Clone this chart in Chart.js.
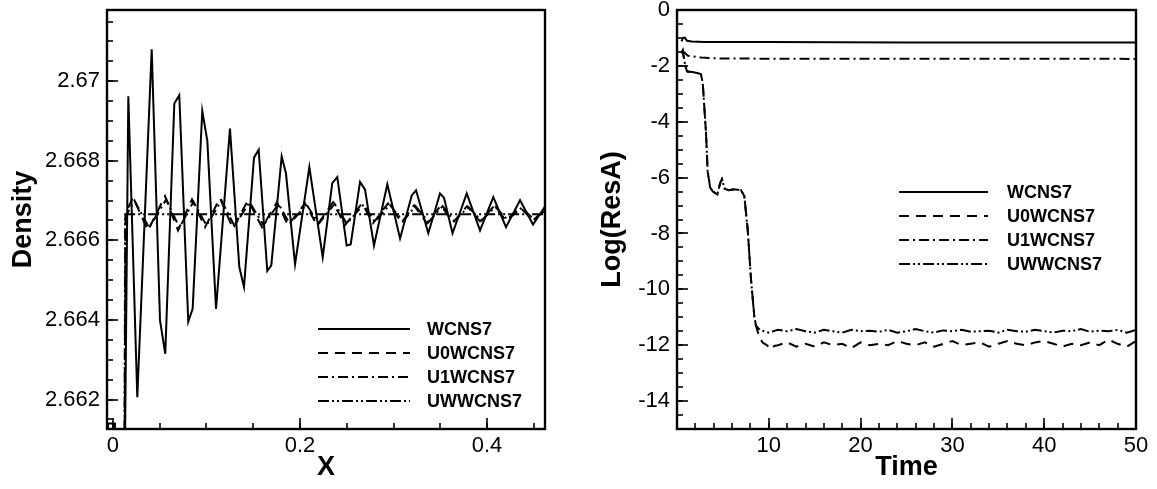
<!DOCTYPE html>
<html><head><meta charset="utf-8">
<script src="https://cdn.jsdelivr.net/npm/chart.js@4.4.1/dist/chart.umd.min.js"></script>
<style>
html,body{margin:0;padding:0;background:#fff;width:1157px;height:489px;overflow:hidden}
#l{position:absolute;left:0;top:0;width:580px;height:489px}
#r{position:absolute;left:580px;top:0;width:577px;height:489px}
canvas{display:block}
</style></head><body>
<div id="l"><canvas id="c1" width="580" height="489"></canvas></div>
<div id="r"><canvas id="c2" width="577" height="489"></canvas></div>
<script>
// ---------- shared ----------
const seriesNames = ['WCNS7', 'U0WCNS7', 'U1WCNS7', 'UWWCNS7'];

// ---------- left panel: Density vs X ----------
const xTicksL = [0, 0.2, 0.4];
const xTickLabelsL = ['0', '0.2', '0.4'];
const yTicksL = [2.662, 2.664, 2.666, 2.668, 2.67];
const yTickLabelsL = ['2.662', '2.664', '2.666', '2.668', '2.67'];

const wcnsX = [-0.0058, -0.0053, 0.0021, 0.0026, 0.0125, 0.0164, 0.0260, 0.0414, 0.0503, 0.0559, 0.0656, 0.0709, 0.0805, 0.0852, 0.0955, 0.1009, 0.1102, 0.1251, 0.1351, 0.1401, 0.1508, 0.1558, 0.1650, 0.1693, 0.1804, 0.1850, 0.1947, 0.2100, 0.2243, 0.2345, 0.2399, 0.2499, 0.2542, 0.2642, 0.2695, 0.2791, 0.2934, 0.3070, 0.3195, 0.3241, 0.3372, 0.3497, 0.3540, 0.3631, 0.3783, 0.3925, 0.4067, 0.4203, 0.4353, 0.4492, 0.4642, 0.4700];
const wcnsD = [2.6600, 2.66140, 2.66140, 2.6600, 2.6600, 2.66962, 2.66206, 2.67080, 2.66399, 2.66315, 2.66944, 2.66965, 2.66396, 2.66428, 2.66925, 2.66850, 2.66428, 2.66881, 2.66533, 2.66483, 2.66808, 2.66828, 2.66523, 2.66537, 2.66811, 2.66768, 2.66540, 2.66784, 2.66558, 2.66744, 2.66759, 2.66587, 2.66590, 2.66747, 2.66728, 2.66587, 2.66741, 2.66605, 2.66713, 2.66726, 2.66618, 2.66718, 2.66707, 2.66618, 2.66718, 2.66625, 2.66709, 2.66633, 2.66701, 2.66640, 2.66693, 2.66670];

const u0X = [0.0123, 0.0134, 0.0214, 0.0374, 0.0556, 0.0695, 0.0845, 0.0984, 0.1144, 0.1283, 0.1444, 0.1594, 0.1754, 0.1872, 0.2053, 0.2182, 0.2353, 0.2481, 0.2663, 0.2781, 0.2941, 0.3088, 0.3219, 0.3358, 0.3508, 0.3636, 0.3786, 0.3925, 0.4075, 0.4203, 0.4353, 0.4492, 0.4642, 0.4706];
const u0D = [2.6600, 2.66668, 2.66708, 2.66625, 2.66711, 2.66625, 2.66703, 2.66633, 2.66706, 2.66630, 2.66701, 2.66633, 2.66696, 2.66638, 2.66693, 2.66638, 2.66696, 2.66638, 2.66693, 2.66643, 2.66693, 2.66645, 2.66688, 2.66643, 2.66688, 2.66645, 2.66686, 2.66648, 2.66686, 2.66650, 2.66683, 2.66650, 2.66683, 2.66667];

const u1X = [0.0124, 0.0136, 0.0230, 0.0385, 0.0570, 0.0710, 0.0860, 0.1000, 0.1160, 0.1300, 0.1460, 0.1610, 0.1770, 0.1890, 0.2070, 0.2200, 0.2370, 0.2500, 0.2680, 0.2800, 0.2960, 0.3100, 0.3235, 0.3375, 0.3525, 0.3650, 0.3800, 0.3940, 0.4090, 0.4220, 0.4370, 0.4505, 0.4655, 0.4706];
const u1D = [2.6600, 2.66660, 2.66700, 2.66632, 2.66703, 2.66632, 2.66697, 2.66638, 2.66700, 2.66636, 2.66696, 2.66638, 2.66692, 2.66642, 2.66690, 2.66642, 2.66692, 2.66642, 2.66690, 2.66646, 2.66690, 2.66648, 2.66686, 2.66646, 2.66686, 2.66648, 2.66684, 2.66650, 2.66684, 2.66652, 2.66682, 2.66652, 2.66682, 2.66667];

const uwX = [0.0122, 0.0130, 0.05, 0.1, 0.2, 0.3, 0.4, 0.4706];
const uwD = [2.6600, 2.66666, 2.66666, 2.66666, 2.66666, 2.66666, 2.66666, 2.66666];

// ---------- right panel: Log(ResA) vs Time ----------
const xTicksR = [10, 20, 30, 40, 50];
const yTicksR = [0, -2, -4, -6, -8, -10, -12, -14];

const wcnsT = [0.5, 0.65, 0.85, 1.1, 1.6, 3, 10, 25, 50];
const wcnsR = [-1.12, -1.0, -0.99, -1.1, -1.13, -1.15, -1.15, -1.16, -1.16];

const u1T = [0.5, 0.8, 1.2, 2.6, 5, 50];
const u1R = [-1.45, -1.52, -1.64, -1.70, -1.74, -1.75];

const earlyT = [0.5, 0.62, 0.9, 1.1, 1.7, 2.6, 2.8, 3.16, 3.34, 3.5, 3.6, 3.9, 4.4, 4.7, 4.9, 5.2, 5.6, 6.2, 6.97, 7.33, 7.7, 8.06, 8.42, 8.6];
const earlyR = [-1.55, -1.46, -2.0, -2.2, -2.22, -2.29, -2.6, -4.4, -5.8, -6.1, -6.35, -6.5, -6.6, -6.2, -6.06, -6.4, -6.45, -6.42, -6.45, -6.66, -7.85, -9.64, -10.96, -11.3];

const u0LateT = [8.97, 9.34, 9.8, 10.2, 10.6, 11, 12, 13, 14, 15, 16, 17, 18, 19, 20, 21, 22, 23, 24, 25, 26, 27, 28, 29, 30, 31, 32, 33, 34, 35, 36, 37, 38, 39, 40, 41, 42, 43, 44, 45, 46, 47, 48, 49, 50];
const u0LateR = [-11.73, -11.91, -12.0, -12.15, -12.03, -12.0, -11.9, -12.05, -11.95, -12.05, -11.9, -12.0, -11.95, -12.1, -11.9, -12.0, -11.95, -12.0, -11.85, -11.95, -12.0, -11.9, -12.05, -11.95, -11.85, -12.0, -11.95, -11.9, -12.05, -11.95, -11.85, -11.95, -12.0, -11.9, -11.85, -11.95, -12.05, -11.95, -12.0, -11.9, -12.0, -11.8, -11.95, -12.05, -11.85];

const uwLateT = [9, 9.5, 10, 11, 12, 13, 14, 15, 16, 17, 18, 19, 20, 21, 22, 23, 24, 25, 26, 27, 28, 29, 30, 31, 32, 33, 34, 35, 36, 37, 38, 39, 40, 41, 42, 43, 44, 45, 46, 47, 48, 49, 50];
const uwLateR = [-11.45, -11.5, -11.55, -11.45, -11.5, -11.42, -11.5, -11.55, -11.45, -11.5, -11.55, -11.45, -11.5, -11.48, -11.52, -11.45, -11.55, -11.5, -11.42, -11.5, -11.55, -11.47, -11.5, -11.45, -11.52, -11.5, -11.48, -11.55, -11.45, -11.5, -11.52, -11.45, -11.5, -11.55, -11.48, -11.5, -11.42, -11.52, -11.48, -11.5, -11.45, -11.55, -11.45];

// ---------- helpers ----------
const FONT = '"Liberation Sans", Arial, Helvetica, sans-serif';
const dashes = [[], [10, 7], [10, 4, 2, 4], [11, 3, 2, 3, 2, 3]];
const pts = (xs, ys) => xs.map((x, i) => ({x: x, y: ys[i]}));
const mkDs = (i, data) => ({
  label: seriesNames[i], data: data, showLine: true, pointRadius: 0,
  borderColor: '#000', borderWidth: 2, borderDash: dashes[i], tension: 0, fill: false
});

const frameTicks = {
  id: 'frameTicks',
  afterDatasetsDraw(chart, args, o) {
    const {ctx, chartArea: a, scales} = chart;
    const xs = scales.x, ys = scales.y;
    ctx.save();
    ctx.strokeStyle = '#000';
    ctx.lineWidth = 1.6;
    ctx.setLineDash([]);
    const tx = (v, len) => {
      const p = Math.round(xs.getPixelForValue(v));
      if (p < a.left - 0.5 || p > a.right + 0.5) return;
      ctx.beginPath(); ctx.moveTo(p, a.bottom); ctx.lineTo(p, a.bottom - len); ctx.stroke();
    };
    const ty = (v, len) => {
      const p = Math.round(ys.getPixelForValue(v));
      if (p < a.top - 0.5 || p > a.bottom + 0.5) return;
      ctx.beginPath(); ctx.moveTo(a.left, p); ctx.lineTo(a.left + len, p); ctx.stroke();
    };
    for (let i = Math.ceil(xs.min / o.xMinor - 1e-9); i * o.xMinor <= xs.max + 1e-9; i++) tx(i * o.xMinor, 6);
    for (let i = Math.ceil(ys.min / o.yMinor - 1e-9); i * o.yMinor <= ys.max + 1e-9; i++) ty(i * o.yMinor, 6);
    o.xMajor.forEach(v => tx(v, 11));
    o.yMajor.forEach(v => ty(v, 11));
    ctx.lineWidth = 2.4;
    ctx.strokeRect(a.left, a.top, a.right - a.left, a.bottom - a.top);
    ctx.restore();
  }
};

const lineLegend = {
  id: 'lineLegend',
  afterDraw(chart, args, o) {
    const {ctx, chartArea: a} = chart;
    ctx.save();
    chart.data.datasets.forEach((ds, i) => {
      const y = a.top + o.top + i * o.rowH;
      const x0 = a.left + o.left;
      ctx.strokeStyle = ds.borderColor;
      ctx.lineWidth = ds.borderWidth;
      ctx.setLineDash(ds.borderDash || []);
      ctx.beginPath(); ctx.moveTo(x0, y); ctx.lineTo(x0 + o.lineLen, y); ctx.stroke();
      ctx.setLineDash([]);
      ctx.fillStyle = '#000';
      ctx.font = 'bold ' + o.fontSize + 'px ' + FONT;
      ctx.textBaseline = 'middle';
      ctx.textAlign = 'left';
      ctx.fillText(ds.label, x0 + o.lineLen + o.gap, y + 1);
    });
    ctx.restore();
  }
};

function makeChart(id, cfg) {
  return new Chart(document.getElementById(id), {
    type: 'scatter',
    data: {datasets: cfg.datasets},
    plugins: [frameTicks, lineLegend],
    options: {
      responsive: false, animation: false, events: [],
      layout: {padding: {left: 0, top: 10, right: cfg.padRight, bottom: 0}},
      plugins: {
        legend: {display: false}, tooltip: {enabled: false},
        frameTicks: {xMinor: cfg.xMinor, yMinor: cfg.yMinor, xMajor: cfg.xTicks, yMajor: cfg.yTicks},
        lineLegend: cfg.legend
      },
      scales: {
        x: {
          type: 'linear', min: cfg.xMin, max: cfg.xMax,
          grid: {display: false, drawTicks: false}, border: {display: false},
          afterBuildTicks: s => { s.ticks = cfg.xTicks.map(v => ({value: v})); },
          afterFit: s => { s.height = 60; s.paddingLeft = 0; s.paddingRight = 0; },
          ticks: {
            padding: 4, color: '#000', font: {family: FONT, size: 22}, maxRotation: 0, autoSkip: false,
            callback: (v, i) => cfg.xLabels[i]
          },
          title: {display: true, text: cfg.xTitle, color: '#000', font: {family: FONT, size: 27, weight: 'bold'}, padding: {top: 0, bottom: 5}}
        },
        y: {
          type: 'linear', min: cfg.yMin, max: cfg.yMax,
          grid: {display: false, drawTicks: false}, border: {display: false},
          afterBuildTicks: s => { s.ticks = cfg.yTicks.map(v => ({value: v})); },
          afterFit: s => { s.width = cfg.yWidth; s.paddingTop = 0; s.paddingBottom = 0; },
          ticks: {
            padding: 7, color: '#000', font: {family: FONT, size: 22}, autoSkip: false,
            callback: (v, i) => cfg.yLabels[i]
          },
          title: {display: true, text: cfg.yTitle, color: '#000', font: {family: FONT, size: 27, weight: 'bold'}, padding: {top: cfg.yTitlePad, bottom: 0}}
        }
      }
    }
  });
}

makeChart('c1', {
  datasets: [mkDs(0, pts(wcnsX, wcnsD)), mkDs(1, pts(u0X, u0D)), mkDs(2, pts(u1X, u1D)), mkDs(3, pts(uwX, uwD))],
  xMin: -0.0064, xMax: 0.462, yMin: 2.66126, yMax: 2.67179,
  xTicks: xTicksL, xLabels: xTickLabelsL, yTicks: yTicksL, yLabels: yTickLabelsL,
  xMinor: 0.05, yMinor: 0.0005, yWidth: 107, padRight: 35, yTitlePad: 7,
  xTitle: 'X', yTitle: 'Density',
  legend: {left: 211, top: 319, rowH: 24, lineLen: 92, gap: 17, fontSize: 18}
});

makeChart('c2', {
  datasets: [
    mkDs(0, pts(wcnsT, wcnsR)),
    mkDs(1, pts(earlyT.concat(u0LateT), earlyR.concat(u0LateR))),
    mkDs(2, pts(u1T, u1R)),
    mkDs(3, pts(earlyT.concat(uwLateT), earlyR.concat(uwLateR)))
  ],
  xMin: 0, xMax: 50, yMin: -15, yMax: 0,
  xTicks: xTicksR, xLabels: xTicksR.map(String), yTicks: yTicksR, yLabels: yTicksR.map(String),
  xMinor: 2, yMinor: 0.5, yWidth: 97, padRight: 21, yTitlePad: 16,
  xTitle: 'Time', yTitle: 'Log(ResA)',
  legend: {left: 222, top: 182, rowH: 24, lineLen: 89, gap: 19, fontSize: 18}
});
</script>
</body></html>
